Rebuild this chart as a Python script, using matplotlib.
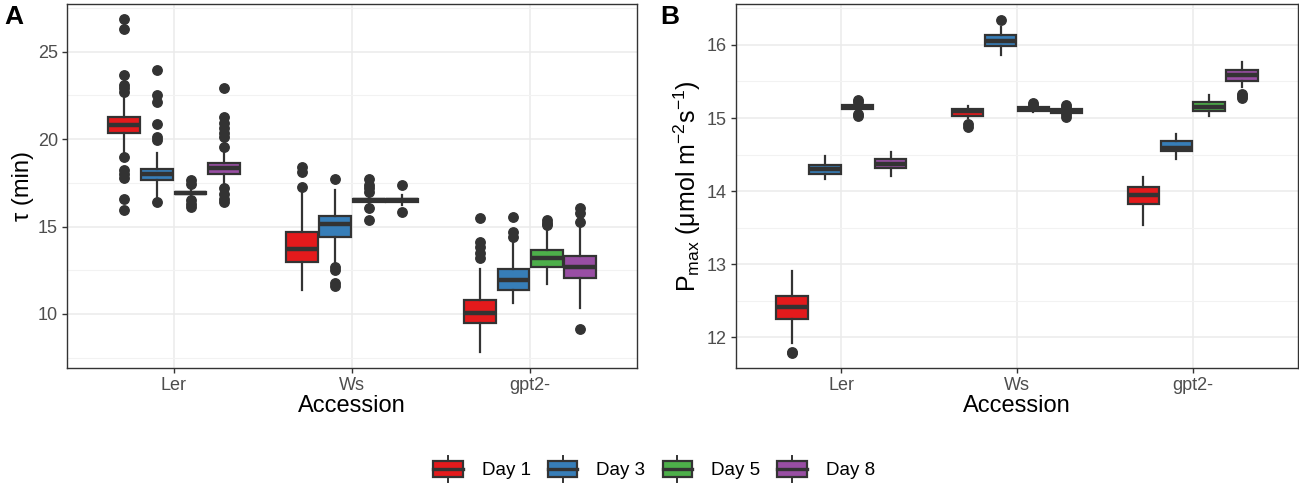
import matplotlib.pyplot as plt
from matplotlib.legend_handler import HandlerBase
from matplotlib.patches import Rectangle, Patch
from matplotlib.lines import Line2D

plt.rcParams['font.family'] = ['Liberation Sans', 'DejaVu Sans']
plt.rcParams['mathtext.fontset'] = 'custom'
plt.rcParams['mathtext.rm'] = 'Liberation Sans'
plt.rcParams['mathtext.it'] = 'Liberation Sans:italic'

# categories
accessions = ['Ler', 'Ws', 'gpt2-']
days = ['Day 1', 'Day 3', 'Day 5', 'Day 8']
day_colors = ['#E41A1C', '#377EB8', '#4DAF4A', '#984EA3']

# panel A: tau (min), rows = accession, columns = day
tau_q1 = [[20.36, 17.65, 16.84, 18.03], [12.99, 14.42, 16.42, 16.42], [9.47, 11.37, 12.70, 12.04]]
tau_med = [[20.80, 18.00, 16.93, 18.36], [13.71, 15.12, 16.50, 16.50], [10.08, 11.94, 13.18, 12.70]]
tau_q3 = [[21.28, 18.32, 17.00, 18.66], [14.70, 15.60, 16.58, 16.58], [10.80, 12.55, 13.66, 13.31]]
tau_lo = [[19.18, 16.70, 16.75, 17.37], [11.37, 12.99, 16.25, 16.25], [7.85, 10.61, 11.71, 10.33]]
tau_hi = [[22.42, 19.22, 17.10, 19.22], [16.90, 17.09, 16.80, 16.80], [12.55, 14.13, 14.90, 15.08]]
tau_out = [
    [[26.87, 26.28, 23.66, 23.09, 22.90, 22.71, 18.95, 18.22, 18.03, 17.75, 16.55, 15.97],
     [23.95, 22.52, 22.14, 20.86, 20.13, 19.94, 16.41],
     [17.65, 17.45, 16.51, 16.30, 16.13],
     [22.90, 21.24, 20.94, 20.61, 20.36, 20.13, 19.56, 17.21, 16.89, 16.60, 16.41]],
    [[18.42, 18.13, 17.27],
     [17.71, 12.70, 12.50, 11.75, 11.62],
     [17.70, 17.40, 17.20, 17.00, 16.04, 15.37],
     [17.37, 15.85]],
    [[15.50, 14.13, 13.85, 13.50, 13.18],
     [15.56, 14.70, 14.42],
     [15.37, 15.20, 15.08],
     [16.04, 15.75, 15.27, 9.13]],
]

# panel B: Pmax (umol m-2 s-1)
pmax_q1 = [[12.25, 14.24, 15.12, 14.31], [15.03, 15.98, 15.10, 15.07], [13.82, 14.55, 15.10, 15.51]]
pmax_med = [[12.42, 14.30, 15.15, 14.37], [15.10, 16.06, 15.12, 15.10], [13.95, 14.59, 15.15, 15.59]]
pmax_q3 = [[12.56, 14.36, 15.18, 14.44], [15.13, 16.14, 15.15, 15.13], [14.06, 14.69, 15.22, 15.66]]
pmax_lo = [[11.92, 14.16, 15.08, 14.20], [15.00, 15.86, 15.08, 15.04], [13.54, 14.44, 15.03, 15.43]]
pmax_hi = [[12.91, 14.48, 15.21, 14.54], [15.17, 16.25, 15.17, 15.16], [14.19, 14.78, 15.31, 15.76]]
pmax_out = [
    [[11.80, 11.78], [], [15.24, 15.22, 15.05, 15.03], []],
    [[14.92, 14.88], [16.34], [15.20, 15.18], [15.18, 15.15, 15.05, 15.02]],
    [[], [], [], [15.33, 15.30, 15.27]],
]

edge = '#333333'
offsets = [-0.28125, -0.09375, 0.09375, 0.28125]


def draw_panel(ax, q1, med, q3, lo, hi, out):
    for i in range(len(accessions)):
        for j in range(len(days)):
            st = dict(q1=q1[i][j], med=med[i][j], q3=q3[i][j],
                      whislo=lo[i][j], whishi=hi[i][j], fliers=out[i][j])
            ax.bxp([st], positions=[i + 1 + offsets[j]], widths=0.178,
                   patch_artist=True, showcaps=False,
                   boxprops=dict(facecolor=day_colors[j], edgecolor=edge, linewidth=1.6),
                   medianprops=dict(color=edge, linewidth=3.2, solid_capstyle='butt'),
                   whiskerprops=dict(color=edge, linewidth=1.6),
                   flierprops=dict(marker='o', markerfacecolor=edge, markeredgecolor=edge,
                                   markersize=6.8, linestyle='none'),
                   zorder=3)
    ax.set_xlim(0.4, 3.6)
    ax.set_xticks([1, 2, 3])
    ax.set_xticklabels(accessions)
    ax.set_xlabel('Accession', fontsize=17, color='black', labelpad=1)
    ax.set_facecolor('white')
    ax.grid(True, which='major', color='#EBEBEB', linewidth=1.1, zorder=0)
    ax.grid(True, which='minor', axis='y', color='#F2F2F2', linewidth=0.8, zorder=0)
    ax.set_axisbelow(True)
    for s in ax.spines.values():
        s.set_color(edge)
        s.set_linewidth(1.0)
    ax.tick_params(axis='both', colors=edge, labelcolor='#4D4D4D', labelsize=13,
                   length=3.5, width=1.0, pad=3)
    ax.tick_params(axis='both', which='minor', length=0)


fig = plt.figure(figsize=(12.99, 4.87), dpi=100)
axA = fig.add_axes([0.0516, 0.2444, 0.4388, 0.7474])
axB = fig.add_axes([0.5666, 0.2444, 0.4326, 0.7474])

draw_panel(axA, tau_q1, tau_med, tau_q3, tau_lo, tau_hi, tau_out)
axA.set_ylim(6.91, 27.73)
axA.set_yticks([10, 15, 20, 25])
axA.set_yticks([7.5, 12.5, 17.5, 22.5, 27.5], minor=True)
axA.set_ylabel('τ (min)', fontsize=17, color='black', labelpad=3)

draw_panel(axB, pmax_q1, pmax_med, pmax_q3, pmax_lo, pmax_hi, pmax_out)
axB.set_ylim(11.58, 16.56)
axB.set_yticks([12, 13, 14, 15, 16])
axB.set_yticks([12.5, 13.5, 14.5, 15.5, 16.5], minor=True)
axB.set_ylabel(r'P$_{\rm max}$ (μmol m$^{-2}$s$^{-1}$)', fontsize=18, color='black', labelpad=3)

fig.text(0.003, 0.99, 'A', fontsize=19, fontweight='bold', va='top', ha='left')
fig.text(0.508, 0.99, 'B', fontsize=19, fontweight='bold', va='top', ha='left')


class BoxKey(HandlerBase):
    def create_artists(self, legend, orig, xd, yd, w, h, fontsize, trans):
        x0, y0 = -xd, -yd
        cx = x0 + w / 2
        box = Rectangle((x0 + w * 0.04, y0 + h * 0.2), w * 0.92, h * 0.6,
                        facecolor=orig.get_facecolor(), edgecolor=edge, linewidth=1.6,
                        transform=trans)
        mid = Line2D([x0 + w * 0.04, x0 + w * 0.96], [y0 + h * 0.5] * 2,
                     color=edge, linewidth=2.4, transform=trans)
        top = Line2D([cx, cx], [y0 + h * 0.8, y0 + h * 1.0], color=edge, linewidth=1.4, transform=trans)
        bot = Line2D([cx, cx], [y0, y0 + h * 0.2], color=edge, linewidth=1.4, transform=trans)
        return [top, bot, box, mid]


handles = [Patch(facecolor=c) for c in day_colors]
fig.legend(handles, days, loc='center', bbox_to_anchor=(0.503, 0.037), ncol=4,
           frameon=False, fontsize=13.5, handler_map={Patch: BoxKey()},
           handlelength=1.7, handleheight=1.8, handletextpad=0.95, columnspacing=0.85)

fig.savefig('out.png', dpi=100)
